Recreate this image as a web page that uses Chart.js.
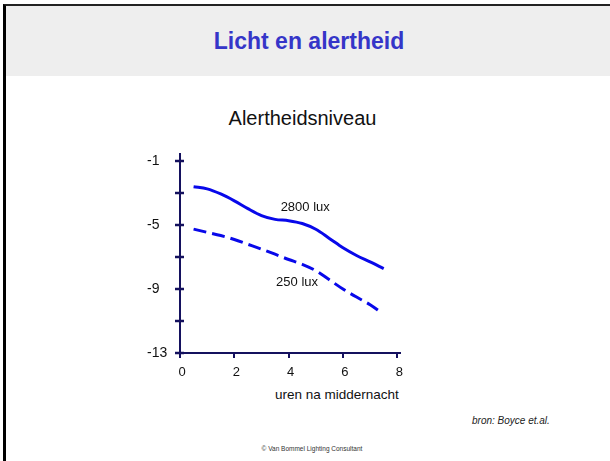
<!DOCTYPE html>
<html>
<head>
<meta charset="utf-8">
<script src="https://cdn.jsdelivr.net/npm/chart.js@4.4.1/dist/chart.umd.min.js"></script>
<style>
  body { margin: 0; background: #fff; font-family: Arial, "Liberation Sans", sans-serif; }
  .slide { position: relative; width: 610px; height: 461px; overflow: hidden; }
  .frame { position: absolute; left: 3px; top: 4px; width: 640px; height: 455px; border-left: 3px solid #000; border-top: 2px solid #222; border-bottom: 1px solid #444; }
  .band { position: absolute; left: 6px; top: 6px; right: 0; height: 70px; background: #eeeeee; }
  .head { position: absolute; left: 0; width: 618px; top: 28px; text-align: center; font-weight: bold; font-size: 23px; color: #3535c8; }
  .ctitle { position: absolute; left: 0; width: 605px; top: 107px; text-align: center; font-size: 20px; color: #111; }
  .xtitle { position: absolute; left: 275px; top: 387px; font-size: 13.5px; color: #111; }
  .src { position: absolute; left: 472px; top: 415px; font-size: 10px; font-style: italic; color: #222; }
  .foot { position: absolute; left: 0; width: 624px; top: 445px; text-align: center; font-size: 6.5px; color: #333; }
  #chart { position: absolute; left: 0; top: 0; }
</style>
</head>
<body>
<div class="slide">
  <div class="band"></div>
  <div class="frame"></div>
  <div class="head">Licht en alertheid</div>
  <div class="ctitle">Alertheidsniveau</div>
  <div class="xtitle">uren na middernacht</div>
  <div class="src">bron: Boyce et.al.</div>
  <div class="foot">© Van Bommel Lighting Consultant</div>
  <canvas id="chart" width="610" height="461"></canvas>
</div>
<script>
// uren na middernacht
const hours2800 = [0.5, 1.0, 1.5, 2.0, 2.5, 3.0, 3.5, 4.0, 4.5, 5.0, 5.5, 6.0, 6.5, 7.0, 7.5];
const alert2800 = [-2.6, -2.73, -3.05, -3.48, -3.97, -4.4, -4.64, -4.72, -4.9, -5.26, -5.83, -6.42, -6.9, -7.3, -7.72];
const hours250 = [0.5, 1.0, 1.5, 2.0, 2.5, 3.0, 3.5, 4.0, 4.5, 5.0, 5.5, 6.0, 6.5, 7.0, 7.4];
const alert250 = [-5.25, -5.45, -5.65, -5.9, -6.2, -6.5, -6.82, -7.15, -7.45, -7.85, -8.42, -9.0, -9.5, -9.98, -10.45];

const xTicks = [0, 2, 4, 6, 8];
const yLabelTicks = [-13, -9, -5, -1];
const yMarkTicks = [-13, -11, -9, -7, -5, -3, -1];

// labels bij de curves (uur, niveau, tekst)
const seriesLabels = [
  { x: 4.61, y: -3.89, text: '2800 lux' },
  { x: 4.31, y: -8.57, text: '250 lux' }
];

const axisClr = '#14115e';
const lineClr = '#0808ea';
const textClr = '#111';

const toPts = (xs, ys) => xs.map((x, i) => ({ x, y: ys[i] }));

const marksPlugin = {
  id: 'marks',
  afterDraw(chart) {
    const { ctx, scales: { x, y } } = chart;
    ctx.save();
    ctx.strokeStyle = axisClr;
    ctx.lineWidth = 2.5;
    yMarkTicks.forEach(v => {
      const py = Math.round(y.getPixelForValue(v));
      ctx.beginPath(); ctx.moveTo(x.left - 5, py); ctx.lineTo(x.left + 4, py); ctx.stroke();
    });
    ctx.lineWidth = 2;
    xTicks.forEach(v => {
      const px = Math.round(x.getPixelForValue(v));
      ctx.beginPath(); ctx.moveTo(px, y.bottom); ctx.lineTo(px, y.bottom + 5); ctx.stroke();
    });
    ctx.fillStyle = textClr;
    ctx.font = '13px Arial, "Liberation Sans", sans-serif';
    ctx.textAlign = 'center'; ctx.textBaseline = 'middle';
    seriesLabels.forEach(l => ctx.fillText(l.text, x.getPixelForValue(l.x), y.getPixelForValue(l.y)));
    ctx.restore();
  }
};

new Chart(document.getElementById('chart'), {
  type: 'line',
  data: {
    datasets: [
      { data: toPts(hours2800, alert2800), borderColor: lineClr, borderWidth: 3, pointRadius: 0, tension: 0.4, cubicInterpolationMode: 'monotone', fill: false },
      { data: toPts(hours250, alert250), borderColor: lineClr, borderWidth: 3, borderDash: [13, 6], pointRadius: 0, tension: 0.4, cubicInterpolationMode: 'monotone', fill: false }
    ]
  },
  options: {
    responsive: false,
    animation: false,
    layout: { padding: { left: 147, right: 210, top: 154, bottom: 78 } },
    plugins: { legend: { display: false }, tooltip: { enabled: false } },
    scales: {
      x: {
        type: 'linear', min: 0, max: 8.1,
        afterBuildTicks: s => { s.ticks = xTicks.map(v => ({ value: v })); },
        afterFit: s => { s.height = 30; },
        grid: { display: true, drawOnChartArea: false, drawTicks: false },
        border: { display: true, color: axisClr, width: 2 },
        ticks: { color: textClr, font: { size: 13, family: 'Arial, "Liberation Sans", sans-serif' }, padding: 12, labelOffset: 2, maxRotation: 0 }
      },
      y: {
        type: 'linear', min: -13, max: -0.55,
        afterBuildTicks: s => { s.ticks = yLabelTicks.map(v => ({ value: v })); },
        afterFit: s => { s.width = 33; },
        grid: { display: true, drawOnChartArea: false, drawTicks: false },
        border: { display: true, color: axisClr, width: 2 },
        ticks: { color: textClr, font: { size: 14, family: 'Arial, "Liberation Sans", sans-serif' }, crossAlign: 'far', padding: 4 }
      }
    }
  },
  plugins: [marksPlugin]
});
</script>
</body>
</html>
